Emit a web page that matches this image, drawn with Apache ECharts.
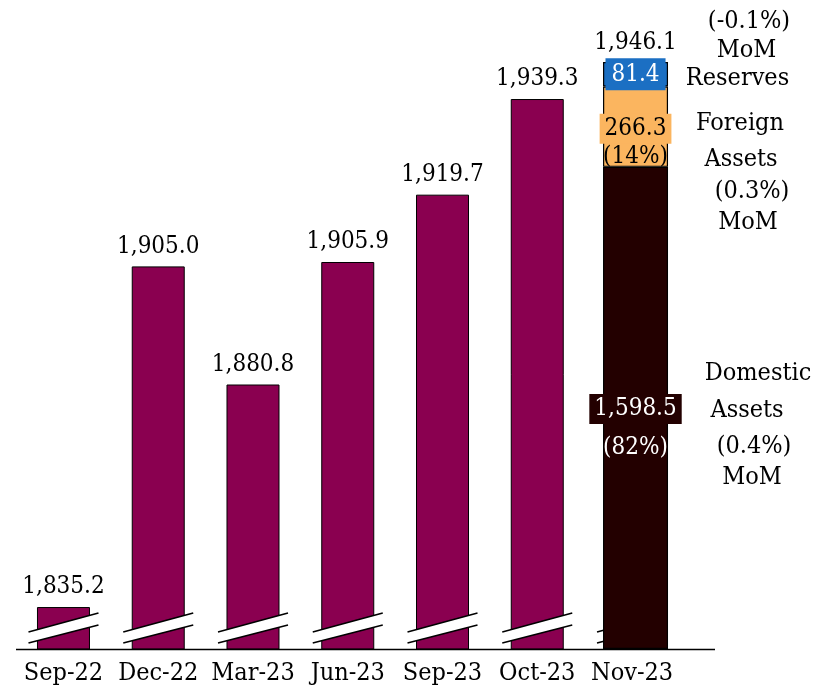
<!DOCTYPE html>
<html>
<head>
<meta charset="utf-8">
<script src="https://cdn.jsdelivr.net/npm/echarts@6/dist/echarts.min.js"></script>
<style>
  html, body { margin: 0; padding: 0; background: #fff; }
  #chart { width: 832px; height: 691px; }
</style>
</head>
<body>
<div id="chart"></div>
<script>
// data
const categories = ["Sep-22", "Dec-22", "Mar-23", "Jun-23", "Sep-23", "Oct-23", "Nov-23"];
const totalAssets = [1835.2, 1905.0, 1880.8, 1905.9, 1919.7, 1939.3, null];
const novTotal = [null, null, null, null, null, null, 1946.1];
// Nov-23 breakdown
const domesticAssets = [null, null, null, null, null, null, 1598.5];
const foreignAssets = [null, null, null, null, null, null, 266.3];
const reserves = [null, null, null, null, null, null, 81.4];
const domesticShare = "(82%)";
const foreignShare = "(14%)";
// notes on the right
const reservesNote = ["(-0.1%)", "MoM", "Reserves"];
const foreignNote = ["Foreign", "Assets", "(0.3%)", "MoM"];
const domesticNote = ["Domestic", "Assets", "(0.4%)", "MoM"];

const FONT = "'DejaVu Serif Condensed', 'DejaVu Serif', serif";
const PURPLE = "#8a0050";
const DARK = "#230000";
const ORANGE = "#fbb55f";
const BLUE = "#1b6fc3";

const fmt = (v) =>
  v.toLocaleString("en-US", { minimumFractionDigits: 1, maximumFractionDigits: 1 });

const chart = echarts.init(document.getElementById("chart"));

// broken value axis for the single bars, zero based axis for the Nov-23 stack
const yMin = 1826.6;
const yMax = 1949.55;
const stackSum = 1598.5 + 266.3 + 81.4;
const stackMax = (stackSum * 600) / 587;

// note lines: [text, centerX, centerY]
const notePos = [
  [reservesNote, [[749, 21], [746.5, 50], [737.5, 78]]],
  [foreignNote, [[740, 123], [741, 159], [752, 191], [748, 222]]],
  [domesticNote, [[758, 373], [747, 410], [754, 446], [752, 477]]],
];
const noteTexts = [];
notePos.forEach(([lines, pos]) => {
  lines.forEach((t, i) => {
    noteTexts.push({
      type: "text",
      x: pos[i][0],
      y: pos[i][1],
      style: {
        text: t,
        align: "center",
        verticalAlign: "middle",
        fontSize: 25,
        fontFamily: FONT,
        fill: "#000",
      },
    });
  });
});

chart.setOption({
  animation: false,
  textStyle: { fontFamily: FONT },
  grid: { left: 16.1, right: 152.6, top: 49, bottom: 42 },
  xAxis: [
    {
      type: "category",
      data: categories,
      axisLine: { show: false },
      axisTick: { show: false },
      axisLabel: {
        interval: 0,
        color: "#000",
        fontSize: 25,
        lineHeight: 26,
        margin: 11,
        fontFamily: FONT,
      },
    },
    { type: "category", data: categories, show: false },
  ],
  yAxis: [
    { type: "value", min: yMin, max: yMax, show: false },
    { type: "value", min: 0, max: stackMax, show: false },
  ],
  graphic: [
    {
      type: "line",
      shape: { x1: 16, y1: 649.5, x2: 715, y2: 649.5 },
      style: { stroke: "#000", lineWidth: 1.5 },
      z: 100,
    },
    ...noteTexts,
  ],
  series: [
    {
      name: "Total",
      type: "bar",
      data: totalAssets,
      barWidth: 53,
      z: 2,
      itemStyle: { color: PURPLE, borderColor: "#000", borderWidth: 1 },
      label: {
        show: true,
        position: "top",
        distance: 7,
        color: "#000",
        fontSize: 24,
        lineHeight: 26,
        formatter: (p) => fmt(p.value),
      },
    },
    // axis break marks
    {
      type: "custom",
      data: categories.map((c, i) => [i]),
      z: 3,
      silent: true,
      renderItem: (params, api) => {
        const cx = api.coord([api.value(0), yMin])[0];
        const by = params.coordSys.y + params.coordSys.height;
        return {
          type: "group",
          children: [
            {
              type: "polygon",
              shape: {
                points: [
                  [cx - 35, by - 17],
                  [cx + 35, by - 36],
                  [cx + 35, by - 24],
                  [cx - 35, by - 6],
                ],
              },
              style: { fill: "#fff" },
            },
            {
              type: "line",
              shape: { x1: cx - 35, y1: by - 17, x2: cx + 35, y2: by - 36 },
              style: { stroke: "#000", lineWidth: 1.6 },
            },
            {
              type: "line",
              shape: { x1: cx - 35, y1: by - 6, x2: cx + 35, y2: by - 24 },
              style: { stroke: "#000", lineWidth: 1.6 },
            },
          ],
        };
      },
    },
    {
      name: "Domestic Assets",
      type: "bar",
      xAxisIndex: 1,
      yAxisIndex: 1,
      stack: "nov",
      data: domesticAssets,
      barWidth: 65,
      barGap: "-100%",
      z: 4,
      itemStyle: { color: DARK, borderColor: "#000", borderWidth: 1.2 },
      label: {
        show: true,
        position: "inside",
        offset: [0, 24.5],
        formatter: (p) => `{v|${fmt(p.value)}}\n{p|${domesticShare}}`,
        rich: {
          v: { color: "#fff", fontSize: 24, lineHeight: 30, padding: [3, 5], backgroundColor: DARK },
          p: { color: "#fff", fontSize: 24, lineHeight: 47 },
        },
      },
    },
    {
      name: "Foreign Assets",
      type: "bar",
      xAxisIndex: 1,
      yAxisIndex: 1,
      stack: "nov",
      data: foreignAssets,
      barWidth: 65,
      barGap: "-100%",
      z: 4,
      itemStyle: { color: ORANGE, borderColor: "#000", borderWidth: 1.2 },
      label: {
        show: true,
        position: "inside",
        offset: [0, 15.5],
        formatter: (p) => `{v|${fmt(p.value)}}\n{p|${foreignShare}}`,
        rich: {
          v: { color: "#000", fontSize: 24, lineHeight: 30, padding: [3, 5], backgroundColor: ORANGE },
          p: { color: "#000", fontSize: 24, lineHeight: 27 },
        },
      },
    },
    {
      name: "Reserves",
      type: "bar",
      xAxisIndex: 1,
      yAxisIndex: 1,
      stack: "nov",
      data: reserves,
      barWidth: 65,
      barGap: "-100%",
      z: 4,
      itemStyle: { color: BLUE, borderColor: "#000", borderWidth: 1.2 },
      label: {
        show: true,
        position: "inside",
        color: "#fff",
        fontSize: 24,
        lineHeight: 26,
        padding: [3, 6],
        backgroundColor: BLUE,
        formatter: (p) => fmt(p.value),
      },
    },
    // total label on top of the Nov-23 stack
    {
      name: "Nov total",
      type: "bar",
      xAxisIndex: 1,
      yAxisIndex: 1,
      stack: "nov",
      data: novTotal.map((v) => (v == null ? null : 0)),
      barWidth: 65,
      barGap: "-100%",
      z: 4,
      itemStyle: { color: "transparent", borderWidth: 0 },
      label: {
        show: true,
        position: "top",
        distance: 6,
        color: "#000",
        fontSize: 24,
        lineHeight: 26,
        formatter: (p) => fmt(novTotal[p.dataIndex]),
      },
    },
    // empty column, only used to nudge the stack right like the original
    {
      type: "bar",
      xAxisIndex: 1,
      yAxisIndex: 1,
      data: categories.map(() => null),
      barWidth: 58,
      barGap: "-100%",
      silent: true,
    },
  ],
});
</script>
</body>
</html>
